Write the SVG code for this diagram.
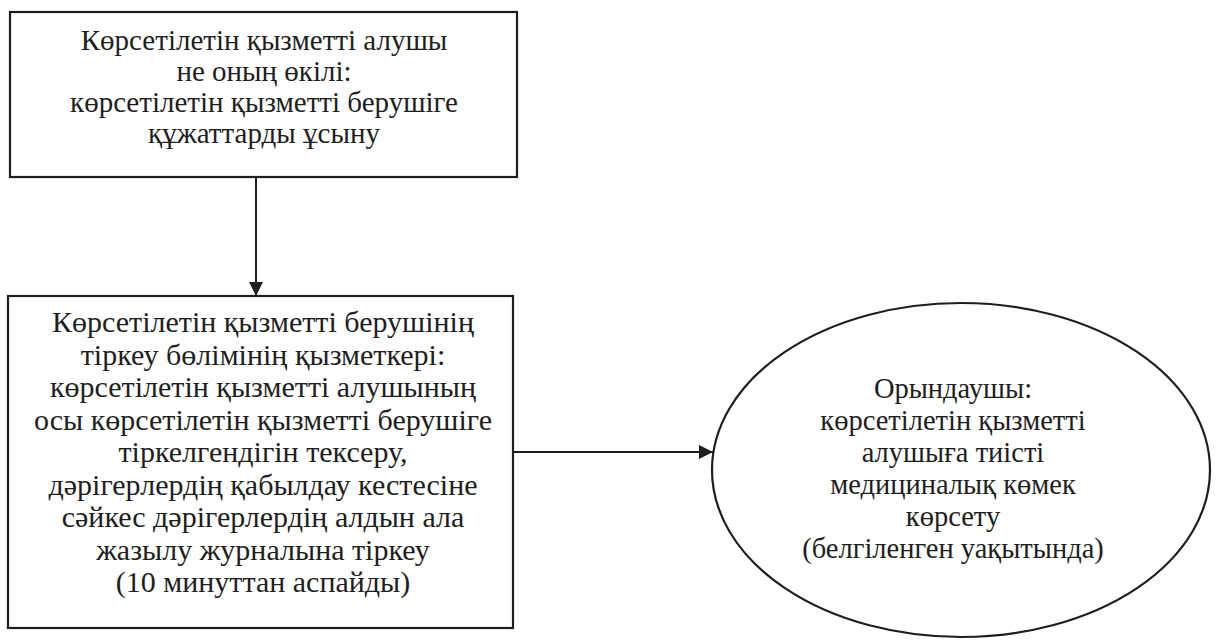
<svg xmlns="http://www.w3.org/2000/svg" width="1222" height="641" viewBox="0 0 1222 641">
<style>
.box{fill:#fff;stroke:#1e1e1e;stroke-width:2.2}
.t{font-family:"Liberation Serif","Times New Roman",serif;font-size:28.5px;fill:#1e1e1e;text-anchor:middle}
.t1{font-size:29px}
.t2{font-size:30px}
.c{stroke:#1e1e1e;stroke-width:2;fill:none}
</style>
<defs>
<marker id="ah" viewBox="0 0 10 10" refX="10" refY="5" markerWidth="7" markerHeight="7" orient="auto" markerUnits="strokeWidth">
<path d="M0,0 L10,5 L0,10 Z" fill="#1e1e1e"/>
</marker>
</defs>
<rect width="1222" height="641" fill="#fff"/>
<g id="connectors">
<line class="c" x1="256" y1="177" x2="256" y2="296" marker-end="url(#ah)"/>
<line class="c" x1="513" y1="452" x2="713" y2="452" marker-end="url(#ah)"/>
</g>
<g id="node1">
<rect class="box" x="10" y="12" width="507" height="165"/>
<text class="t t1" x="264" y="50">Көрсетілетін қызметті алушы</text>
<text class="t t1" x="264" y="81">не оның өкілі:</text>
<text class="t t1" x="264" y="112">көрсетілетін қызметті берушіге</text>
<text class="t t1" x="264" y="143">құжаттарды ұсыну</text>
</g>
<g id="node2">
<rect class="box" x="8" y="296" width="505" height="332"/>
<text class="t t2" x="263" y="332">Көрсетілетін қызметті берушінің</text>
<text class="t t2" x="263" y="364.5">тіркеу бөлімінің қызметкері:</text>
<text class="t t2" x="263" y="397">көрсетілетін қызметті алушының</text>
<text class="t t2" x="263" y="429.5">осы көрсетілетін қызметті берушіге</text>
<text class="t t2" x="263" y="462">тіркелгендігін тексеру,</text>
<text class="t t2" x="263" y="494.5">дәрігерлердің қабылдау кестесіне</text>
<text class="t t2" x="263" y="527">сәйкес дәрігерлердің алдын ала</text>
<text class="t t2" x="263" y="559.5">жазылу журналына тіркеу</text>
<text class="t t2" x="263" y="592">(10 минуттан аспайды)</text>
</g>
<g id="node3">
<ellipse class="box" cx="961" cy="470" rx="249" ry="167"/>
<text class="t" x="953" y="398">Орындаушы:</text>
<text class="t" x="953" y="430">көрсетілетін қызметті</text>
<text class="t" x="953" y="462">алушыға тиісті</text>
<text class="t" x="953" y="494">медициналық көмек</text>
<text class="t" x="953" y="526">көрсету</text>
<text class="t" x="953" y="558">(белгіленген уақытында)</text>
</g>
</svg>
